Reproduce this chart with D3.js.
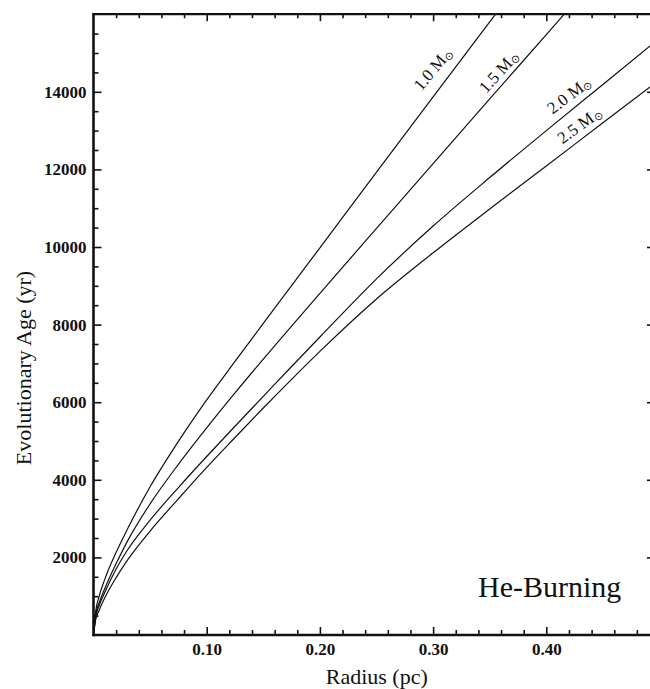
<!DOCTYPE html>
<html>
<head>
<meta charset="utf-8">
<script src="https://cdn.jsdelivr.net/npm/d3@7"></script>
<style>
  html, body { margin: 0; padding: 0; background: #fff; }
  svg { display: block; font-family: "Liberation Serif", "Times New Roman", serif; }
</style>
</head>
<body>
<svg id="chart" width="650" height="689"></svg>
<script>
// ---- data ----
const masses = ["1.0", "1.5", "2.0", "2.5"];
const radius10 = [0, 0.002, 0.005, 0.01, 0.02, 0.03, 0.05, 0.075, 0.1, 0.125, 0.15, 0.175, 0.2, 0.25, 0.3, 0.35, 0.36];
const age10    = [0, 620, 1000, 1440, 2130, 2730, 3820, 4990, 6060, 7050, 8030, 9005, 9980, 11930, 13870, 15800, 16185];
const radius15 = [0, 0.002, 0.005, 0.01, 0.02, 0.03, 0.05, 0.075, 0.1, 0.125, 0.15, 0.175, 0.2, 0.25, 0.3, 0.35, 0.4, 0.42];
const age15    = [0, 540, 830, 1200, 1840, 2420, 3380, 4400, 5340, 6240, 7110, 7960, 8805, 10480, 12150, 13815, 15475, 16140];
const radius20 = [0, 0.002, 0.005, 0.01, 0.02, 0.03, 0.05, 0.075, 0.1, 0.125, 0.15, 0.175, 0.2, 0.25, 0.3, 0.35, 0.4, 0.45, 0.5];
const age20    = [0, 470, 760, 1100, 1700, 2190, 2960, 3800, 4600, 5380, 6150, 6920, 7680, 9180, 10540, 11790, 13000, 14190, 15380];
const radius25 = [0, 0.002, 0.005, 0.01, 0.02, 0.03, 0.05, 0.075, 0.1, 0.125, 0.15, 0.175, 0.2, 0.25, 0.3, 0.35, 0.4, 0.45, 0.5];
const age25    = [0, 400, 640, 960, 1480, 1930, 2680, 3510, 4320, 5090, 5850, 6590, 7310, 8660, 9850, 10980, 12090, 13200, 14310];
// label anchor (data units) and rotation
const labelRadius = [0.2995, 0.3576, 0.4199, 0.4289];
const labelAge    = [14588, 14518, 13918, 13144];
const labelAngle  = [-50, -48, -37, -36];

const xMajor = [0.1, 0.2, 0.3, 0.4];
const xMinor = d3.range(0.02, 0.49, 0.02).filter(v => Math.abs(v * 10 - Math.round(v * 10)) > 1e-6);
const yMajor = [2000, 4000, 6000, 8000, 10000, 12000, 14000];
const yMinor = d3.range(500, 16000, 500).filter(v => v % 2000 !== 0);

const series = [
  { r: radius10, a: age10 },
  { r: radius15, a: age15 },
  { r: radius20, a: age20 },
  { r: radius25, a: age25 }
];

// ---- layout ----
const svg = d3.select("#chart");
const pL = 93.5, pR = 655, pT = 14.2, pB = 635;
const x = d3.scaleLinear().domain([0, 0.496]).range([pL, pR]);
const y = d3.scaleLinear().domain([0, 16000]).range([pB, pT]);

svg.append("defs").append("clipPath").attr("id", "plotclip")
  .append("rect").attr("x", pL).attr("y", pT).attr("width", pR - pL).attr("height", pB - pT);

// curves
const line = d3.line().x(d => x(d[0])).y(d => y(d[1])).curve(d3.curveMonotoneX);
const g = svg.append("g").attr("clip-path", "url(#plotclip)");
series.forEach(s => {
  g.append("path")
    .datum(s.r.map((r, i) => [r, s.a[i]]))
    .attr("d", line)
    .attr("fill", "none")
    .attr("stroke", "#111")
    .attr("stroke-width", 1.2);
});

function styleAxis(sel) {
  sel.select(".domain").remove();
  sel.selectAll(".tick line").attr("stroke", "#111").attr("stroke-width", 1.6);
  sel.selectAll("text").attr("fill", "#111");
}

// bottom
const bMaj = svg.append("g").attr("transform", `translate(0,${pB})`)
  .call(d3.axisBottom(x).tickValues(xMajor).tickSize(-8).tickSizeOuter(0).tickPadding(8).tickFormat(d3.format(".2f")));
styleAxis(bMaj);
bMaj.selectAll("text").attr("font-size", 17).attr("font-weight", "bold").attr("font-family", "Liberation Serif, serif");
const bMin = svg.append("g").attr("transform", `translate(0,${pB})`)
  .call(d3.axisBottom(x).tickValues(xMinor).tickSize(-5).tickSizeOuter(0).tickFormat(""));
styleAxis(bMin);

// top
const tMaj = svg.append("g").attr("transform", `translate(0,${pT})`)
  .call(d3.axisTop(x).tickValues(xMajor).tickSize(-7).tickSizeOuter(0).tickFormat(""));
styleAxis(tMaj);
const tMin = svg.append("g").attr("transform", `translate(0,${pT})`)
  .call(d3.axisTop(x).tickValues(xMinor).tickSize(-4).tickSizeOuter(0).tickFormat(""));
styleAxis(tMin);

// left
const lMaj = svg.append("g").attr("transform", `translate(${pL},0)`)
  .call(d3.axisLeft(y).tickValues(yMajor).tickSize(-8).tickSizeOuter(0).tickPadding(7).tickFormat(d3.format("d")));
styleAxis(lMaj);
lMaj.selectAll("text").attr("font-size", 17).attr("font-weight", "bold").attr("font-family", "Liberation Serif, serif");
const lMin = svg.append("g").attr("transform", `translate(${pL},0)`)
  .call(d3.axisLeft(y).tickValues(yMinor).tickSize(-5).tickSizeOuter(0).tickFormat(""));
styleAxis(lMin);

// right
const rMaj = svg.append("g").attr("transform", `translate(${pR},0)`)
  .call(d3.axisRight(y).tickValues(yMajor).tickSize(-8).tickSizeOuter(0).tickFormat(""));
styleAxis(rMaj);
const rMin = svg.append("g").attr("transform", `translate(${pR},0)`)
  .call(d3.axisRight(y).tickValues(yMinor).tickSize(-5).tickSizeOuter(0).tickFormat(""));
styleAxis(rMin);

// frame lines
svg.append("line").attr("x1", pL).attr("x2", pL).attr("y1", pT - 1).attr("y2", pB + 1.2)
  .attr("stroke", "#111").attr("stroke-width", 2.6);
svg.append("line").attr("x1", pL - 1.2).attr("x2", pR + 1).attr("y1", pB).attr("y2", pB)
  .attr("stroke", "#111").attr("stroke-width", 2.6);
svg.append("line").attr("x1", pL - 1.2).attr("x2", pR + 1).attr("y1", pT).attr("y2", pT)
  .attr("stroke", "#111").attr("stroke-width", 2.2);
svg.append("line").attr("x1", pR).attr("x2", pR).attr("y1", pT).attr("y2", pB)
  .attr("stroke", "#111").attr("stroke-width", 2.2);

// axis titles
svg.append("text").attr("x", (pL + 660) / 2).attr("y", 684)
  .attr("text-anchor", "middle").attr("font-size", 22).attr("fill", "#111").text("Radius (pc)");
svg.append("text").attr("transform", "translate(31,368) rotate(-90)")
  .attr("text-anchor", "middle").attr("font-size", 22).attr("fill", "#111").text("Evolutionary Age (yr)");

// mass labels
masses.forEach((m, i) => {
  const t = svg.append("text")
    .attr("transform", `translate(${x(labelRadius[i])},${y(labelAge[i])}) rotate(${labelAngle[i]})`)
    .attr("text-anchor", "middle").attr("dy", "0.35em")
    .attr("font-size", 17).attr("fill", "#111");
  t.append("tspan").text(m + " M");
  t.append("tspan").attr("font-size", 11).attr("dy", "0.2em").text("\u2299");
});

// panel title
svg.append("text").attr("x", 478).attr("y", 597).attr("font-size", 30).attr("fill", "#111").text("He-Burning");
</script>
</body>
</html>
